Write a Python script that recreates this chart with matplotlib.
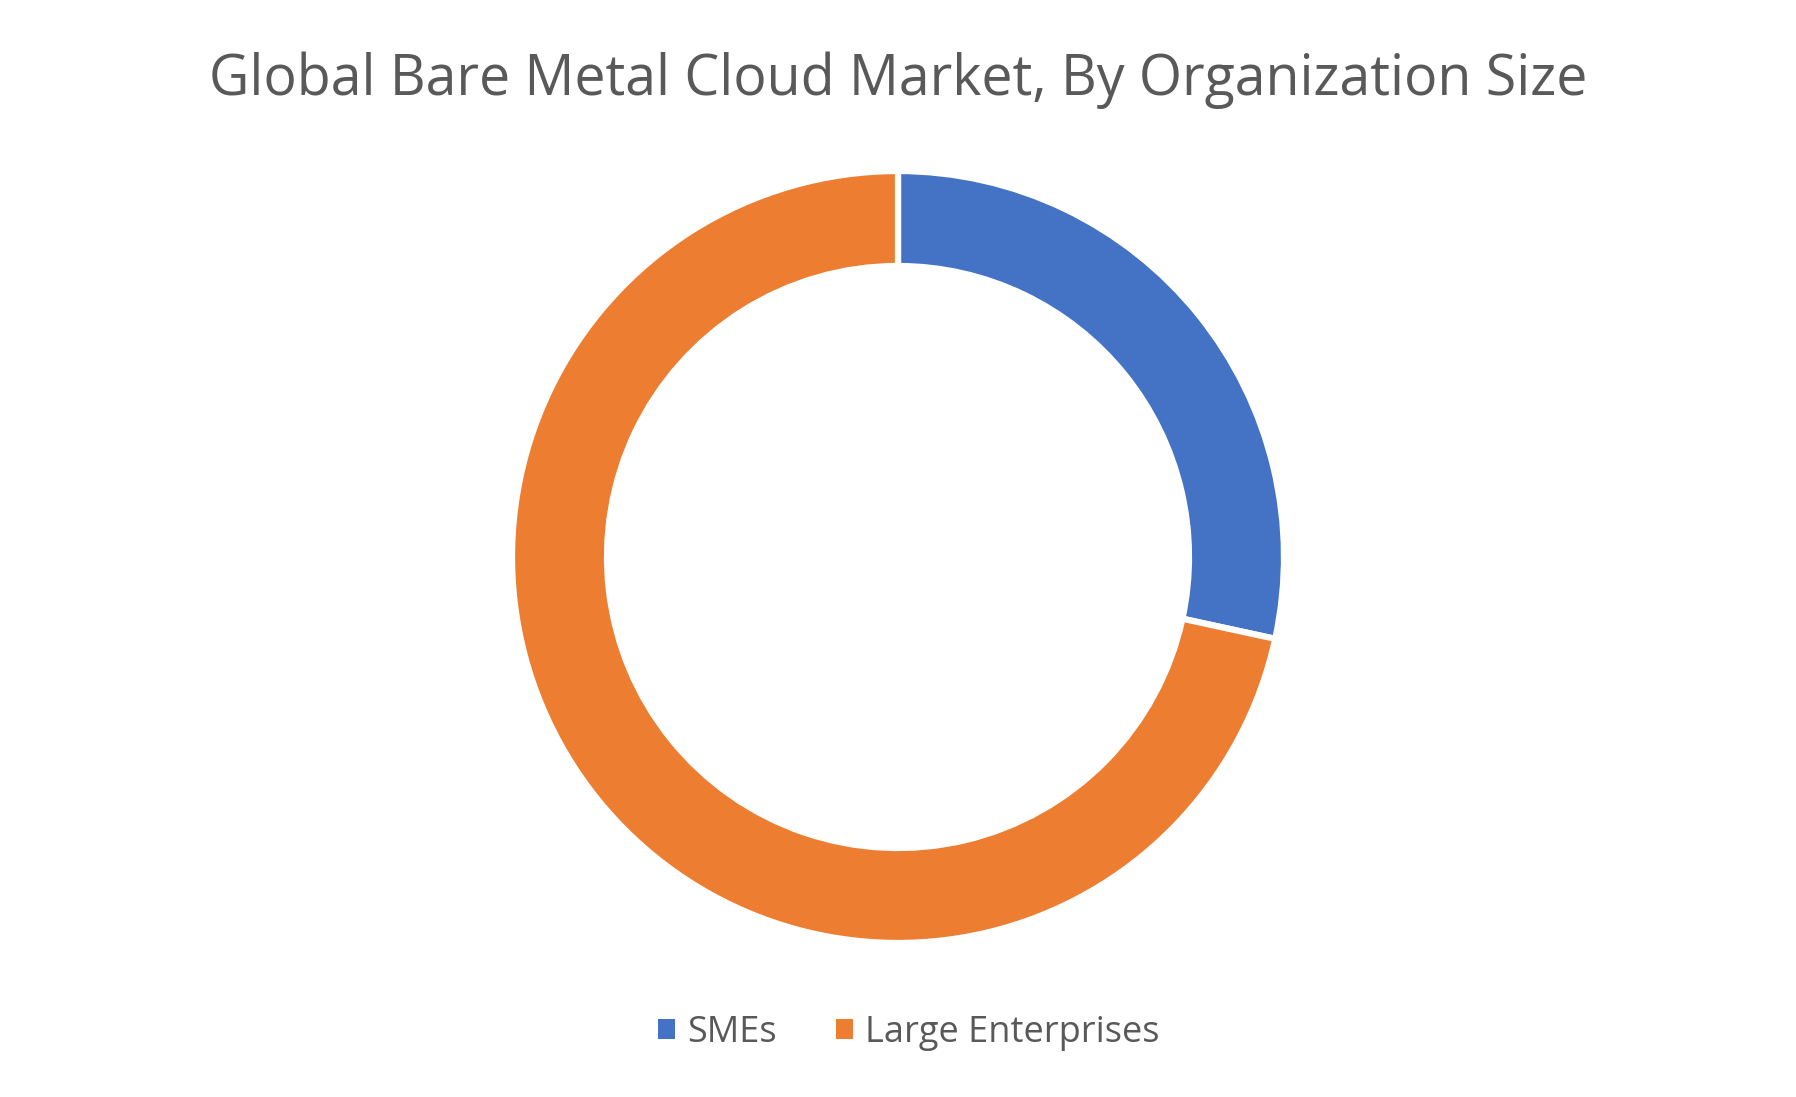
import matplotlib
matplotlib.use("Agg")
import matplotlib.pyplot as plt

# Data
labels = ["SMEs", "Large Enterprises"]
shares = [28.4, 71.6]
colors = ["#4472C4", "#ED7D31"]

title = "Global Bare Metal Cloud Market, By Organization Size"
text_color = "#595959"

plt.rcParams["font.family"] = ["Open Sans", "DejaVu Sans"]

W, H = 1796, 1097
fig = plt.figure(figsize=(W / 100, H / 100), dpi=100)
ax = fig.add_axes([0, 0, 1, 1])
ax.set_xlim(0, W)
ax.set_ylim(0, H)
ax.set_aspect("equal")
ax.axis("off")

outer_r = 386
ring_w = 95
wedges, _ = ax.pie(shares, colors=colors, startangle=90, counterclock=False,
                   center=(898, H - 557), radius=outer_r,
                   wedgeprops=dict(width=ring_w, edgecolor="white", linewidth=4.5))
ax.set_xlim(0, W)
ax.set_ylim(0, H)

fig.text(0.5, 1 - 80 / H, title, ha="center", va="center",
         fontsize=40, color=text_color)

leg = fig.legend(wedges, labels, loc="center", bbox_to_anchor=((898 + 11) / W, 1 - 1033 / H),
                 ncol=2, frameon=False, fontsize=26, labelcolor=text_color,
                 handlelength=0.45, handleheight=0.45, handletextpad=0.35,
                 columnspacing=1.65)
for h in leg.legend_handles:
    h.set_linewidth(0)

fig.savefig("out.png", dpi=100, facecolor="white")
